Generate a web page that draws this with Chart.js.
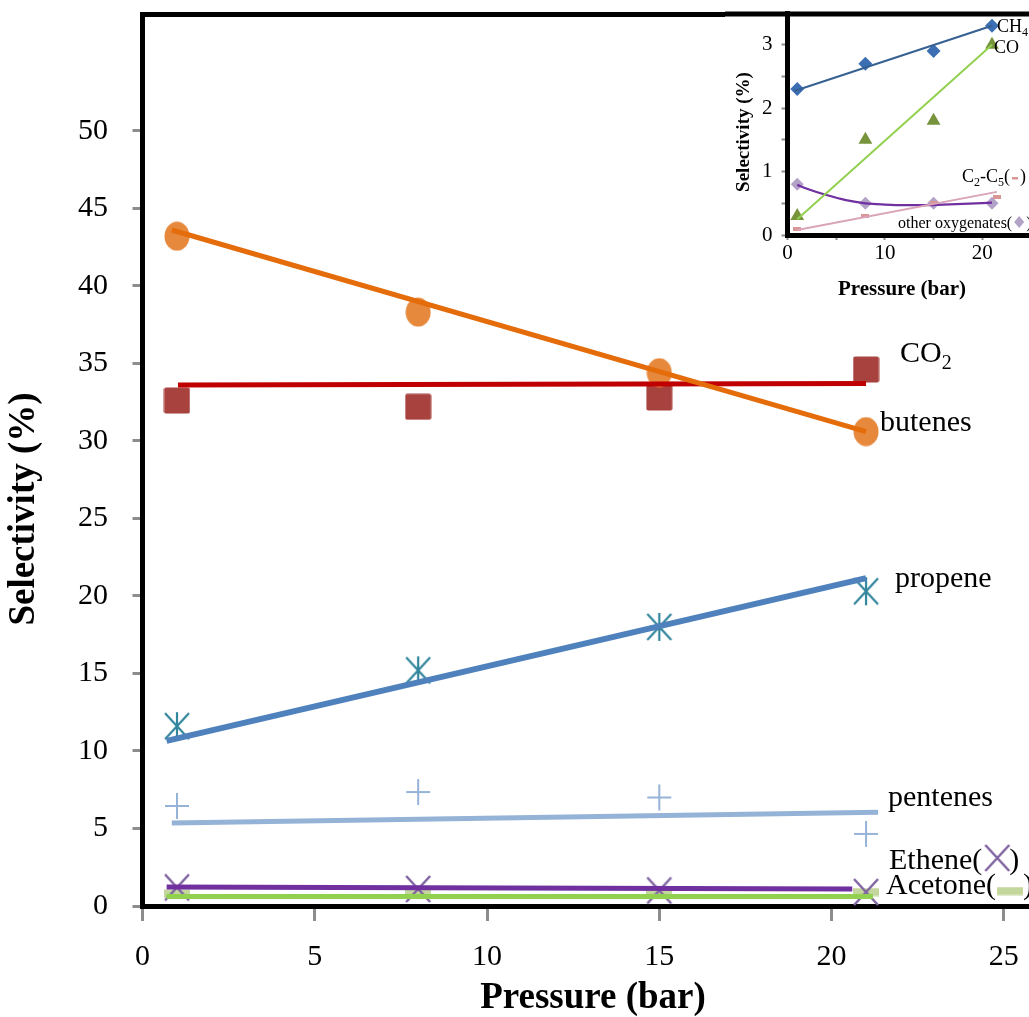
<!DOCTYPE html>
<html><head><meta charset="utf-8">
<script src="https://cdn.jsdelivr.net/npm/chart.js@4"></script>
<style>
html,body{margin:0;padding:0;background:#fff;overflow:hidden}
#wrap{position:relative;width:1029px;height:1017px}
#main{position:absolute;left:0;top:0}
#inset{position:absolute;left:725px;top:0}
</style></head><body>
<div id="wrap"><canvas id="main" width="1029" height="1017"></canvas><canvas id="inset" width="304" height="300"></canvas></div>
<script>
const F = "'Liberation Serif','Times New Roman',Times,serif";

// ---------- main chart data ----------
const pressure = [1, 8, 15, 21];
const butenes  = [43.2, 38.3, 34.4, 30.6];
const co2      = [32.6, 32.2, 32.8, 34.6];
const propene  = [11.6, 15.2, 18.0, 20.3];
const pentenes = [6.45, 7.35, 7.0, 4.65];
const ethene   = [1.2, 1.1, 1.0, 0.9];
const acetone  = [0.8, 0.8, 0.8, 0.9];

// trend lines (end points)
const butenesTrendX  = [0.85, 21];  const butenesTrend  = [43.6, 30.6];
const co2TrendX      = [1.03, 21];  const co2Trend      = [33.6, 33.7];
const propeneTrendX  = [0.7, 21];   const propeneTrend  = [10.65, 21.15];
const pentenesTrendX = [0.85, 21.35]; const pentenesTrend = [5.35, 6.05];
const etheneTrendX   = [0.7, 20.6]; const etheneTrend   = [1.22, 1.1];
const acetoneTrendX  = [0.7, 21.2]; const acetoneTrend  = [0.62, 0.62];

// tick values
const mainXTicks = [0, 5, 10, 15, 20, 25];
const mainYTicks = [0, 5, 10, 15, 20, 25, 30, 35, 40, 45, 50];

// ---------- inset data ----------
const insetP = [1, 8, 15, 21];
const ch4    = [2.3, 2.7, 2.9, 3.3];
const co     = [0.3, 1.5, 1.8, 3.0];
const c2c5P  = [1, 8, 15, 21.5];
const c2c5   = [0.1, 0.3, 0.5, 0.6];
const oxy    = [0.8, 0.5, 0.5, 0.5];
const ch4TrendX  = [0.7, 21];  const ch4Trend  = [2.27, 3.3];
const coTrendX   = [1, 21];    const coTrend   = [0.25, 3.0];
const c2c5TrendX = [1, 21.5];  const c2c5Trend = [0.08, 0.68];
const oxyCurveX  = [1, 2, 4, 6, 8, 10, 12, 14, 16, 18, 21];
const oxyCurve   = [0.79, 0.73, 0.63, 0.55, 0.50, 0.48, 0.47, 0.47, 0.48, 0.49, 0.51];
const insetXTicks = [0, 5, 10, 15, 20];
const insetXLabels = ['0', '', '10', '', '20'];
const insetYTicks = [0, 0.5, 1, 1.5, 2, 2.5, 3, 3.5];
const insetYLabels = ['0', '', '1', '', '2', '', '3', ''];

function pts(xs, ys){ return xs.map((x,i)=>({x:x, y:ys[i]})); }
function mk(w,h,fn){ const c=document.createElement('canvas'); c.width=w; c.height=h; fn(c.getContext('2d'),w,h); return c; }
function noPad(s){ s.paddingTop=0; s.paddingBottom=0; s.paddingLeft=0; s.paddingRight=0; }
function setTicks(vals){ return s=>{ s.ticks = vals.map(v=>({value:v})); }; }

const imgEllipse = mk(26,30,(c,w,h)=>{ c.fillStyle='#E6893D'; c.beginPath(); c.ellipse(w/2,h/2,12.5,14.5,0,0,Math.PI*2); c.fill(); });
const imgSquare = mk(27,27,(c,w,h)=>{ c.fillStyle='#A8423F'; c.beginPath(); c.roundRect(0.5,0.5,26,26,2); c.fill(); });
const imgAst = mk(28,30,(c,w,h)=>{ c.strokeStyle='#31859C'; c.lineWidth=2.2; c.beginPath(); c.moveTo(2,2); c.lineTo(26,28); c.moveTo(26,2); c.lineTo(2,28); c.moveTo(14,1); c.lineTo(14,29); c.stroke(); });
const imgPlus = mk(26,28,(c,w,h)=>{ c.strokeStyle='#95B3D7'; c.lineWidth=2; c.beginPath(); c.moveTo(1,14); c.lineTo(25,14); c.moveTo(13,1); c.lineTo(13,27); c.stroke(); });
const imgX = mk(28,30,(c,w,h)=>{ c.strokeStyle='#8064A2'; c.lineWidth=2.5; c.beginPath(); c.moveTo(2,2); c.lineTo(26,28); c.moveTo(26,2); c.lineTo(2,28); c.stroke(); });
const imgBar = mk(26,9,(c,w,h)=>{ c.fillStyle='#C3D69B'; c.fillRect(0,0.5,26,8); });
const imgPink = mk(8,4,(c,w,h)=>{ c.fillStyle='#D99694'; c.fillRect(0,0,8,4); });

function marks(xs, ys, img){ return {data:pts(xs,ys), showLine:false, pointStyle:img, pointRadius:10, pointHoverRadius:10, order:2}; }
function trend(xs, ys, color, w){ return {data:pts(xs,ys), showLine:true, borderColor:color, borderWidth:w, pointRadius:0, pointHoverRadius:0, fill:false, order:1}; }

function run(c, x, y, parts){
  for (const p of parts){
    c.font = (p[3]||'') + ' ' + p[1] + 'px ' + F;
    c.fillText(p[0], x, y + (p[2]||0));
    x += c.measureText(p[0]).width;
  }
  return x;
}

const mainDecor = {
  id:'mainDecor',
  afterDraw(chart){
    const c = chart.ctx, a = chart.chartArea;
    c.save();
    c.strokeStyle='#000'; c.lineWidth=5;
    c.beginPath(); c.moveTo(a.left-2.5, a.top); c.lineTo(chart.width, a.top); c.stroke();
    c.fillStyle='#000'; c.textBaseline='alphabetic'; c.textAlign='left';
    run(c, 900, 362, [['CO',30],['2',20,7]]);
    run(c, 880, 431, [['butenes',30]]);
    run(c, 895, 587, [['propene',30]]);
    run(c, 888, 806, [['pentenes',30]]);
    let x = run(c, 889, 869, [['Ethene(',30]]);
    c.drawImage(imgX, x+1, 858-15);
    run(c, x+27, 869, [[')',30]]);
    c.fillStyle='#000';
    x = run(c, 886, 894, [['Acetone(',30]]);
    c.drawImage(imgBar, x+1, 891-4.5);
    run(c, x+27, 894, [[')',30]]);
    c.textAlign='center';
    c.font='bold 37px '+F;
    c.fillText('Pressure (bar)', 593, 1008);
    c.translate(34, 509); c.rotate(-Math.PI/2);
    c.fillText('Selectivity (%)', 0, 0);
    c.restore();
  }
};

new Chart(document.getElementById('main'), {
  type:'scatter',
  data:{datasets:[
    trend(butenesTrendX, butenesTrend, '#E46C0A', 5),
    trend(co2TrendX, co2Trend, '#C00000', 5),
    trend(propeneTrendX, propeneTrend, '#4F81BD', 6),
    trend(pentenesTrendX, pentenesTrend, '#95B3D7', 5),
    trend(etheneTrendX, etheneTrend, '#7030A0', 5),
    trend(acetoneTrendX, acetoneTrend, '#92D050', 5),
    marks(pressure, butenes, imgEllipse),
    marks(pressure, co2, imgSquare),
    marks(pressure, propene, imgAst),
    marks(pressure, pentenes, imgPlus),
    marks(pressure, ethene, imgX),
    marks(pressure, acetone, imgBar)
  ]},
  options:{
    responsive:false, animation:false, devicePixelRatio:1,
    layout:{autoPadding:false, padding:{top:14.5,left:0,right:0,bottom:0}},
    plugins:{legend:{display:false}, tooltip:{enabled:false}},
    scales:{
      x:{type:'linear', min:0, max:25.73,
        afterBuildTicks:setTicks(mainXTicks),
        afterFit:s=>{ s.height = 111; noPad(s); },
        ticks:{color:'#000', font:{family:F,size:30}, padding:18, maxRotation:0, autoSkip:false},
        grid:{drawOnChartArea:false, drawTicks:true, tickLength:15, tickColor:'#8c8c8c', tickWidth:3},
        border:{display:true, color:'#000', width:5}
      },
      y:{type:'linear', min:0, max:57.5,
        afterBuildTicks:setTicks(mainYTicks),
        afterFit:s=>{ s.width = 142.5; noPad(s); },
        ticks:{color:'#000', font:{family:F,size:30}, padding:24.5, autoSkip:false},
        grid:{drawOnChartArea:false, drawTicks:true, tickLength:10, tickColor:'#8c8c8c', tickWidth:3},
        border:{display:true, color:'#000', width:5}
      }
    }
  },
  plugins:[mainDecor]
});

const insetDecor = {
  id:'insetDecor',
  beforeDraw(chart){
    const c = chart.ctx; c.save(); c.fillStyle='#fff'; c.fillRect(0,0,chart.width,chart.height); c.restore();
  },
  afterDraw(chart){
    const c = chart.ctx, a = chart.chartArea;
    c.save();
    c.strokeStyle='#000'; c.lineWidth=5;
    c.beginPath(); c.moveTo(0, a.top+1); c.lineTo(chart.width, a.top+1); c.stroke();
    c.fillStyle='#000'; c.textAlign='left'; c.textBaseline='alphabetic';
    run(c, 272, 32, [['CH',18],['4',12,4]]);
    run(c, 269, 53, [['CO',18]]);
    let x = run(c, 237, 182, [['C',18],['2',12,4],['-C',18],['5',12,4],['(',18]]);
    c.fillStyle='#D99694'; c.fillRect(x+2, 177, 6, 2.5);
    c.fillStyle='#000'; run(c, x+10, 182, [[')',18]]);
    x = run(c, 173, 228, [['other oxygenates(',16]]);
    c.fillStyle='#B3A2C7'; c.beginPath(); c.moveTo(x+7,216); c.lineTo(x+12,222); c.lineTo(x+7,228); c.lineTo(x+2,222); c.closePath(); c.fill();
    c.fillStyle='#000'; run(c, x+14, 228, [[')',16]]);
    c.textAlign='center';
    c.font='bold 21px '+F;
    c.fillText('Pressure (bar)', 177, 295);
    c.font='bold 19px '+F;
    c.translate(24, 132); c.rotate(-Math.PI/2);
    c.fillText('Selectivity (%)', 0, 0);
    c.restore();
  }
};

new Chart(document.getElementById('inset'), {
  type:'scatter',
  data:{datasets:[
    trend(ch4TrendX, ch4Trend, '#376092', 2),
    trend(coTrendX, coTrend, '#92D050', 2),
    trend(c2c5TrendX, c2c5Trend, '#D9A3B8', 2),
    Object.assign(trend(oxyCurveX, oxyCurve, '#7030A0', 2.2), {cubicInterpolationMode:'monotone'}),
    {data:pts(insetP, ch4), showLine:false, pointStyle:'rectRot', pointRadius:7, backgroundColor:'#3C6EB4', pointBorderWidth:0, order:2},
    {data:pts(insetP, co), showLine:false, pointStyle:'triangle', pointRadius:8, backgroundColor:'#77933C', pointBorderWidth:0, order:2},
    {data:pts(c2c5P, c2c5), showLine:false, pointStyle:imgPink, pointRadius:5, order:2},
    {data:pts(insetP, oxy), showLine:false, pointStyle:'rectRot', pointRadius:6.5, backgroundColor:'#B3A2C7', pointBorderWidth:0, order:2}
  ]},
  options:{
    responsive:false, animation:false, devicePixelRatio:1,
    layout:{autoPadding:false, padding:{top:13,left:0,right:0,bottom:0}},
    plugins:{legend:{display:false}, tooltip:{enabled:false}},
    scales:{
      x:{type:'linear', min:0, max:24.8,
        afterBuildTicks:setTicks(insetXTicks),
        afterFit:s=>{ s.height = 65; noPad(s); },
        ticks:{color:'#000', font:{family:F,size:21}, padding:1, maxRotation:0, autoSkip:false,
          callback:(v,i)=> insetXLabels[i]},
        grid:{drawOnChartArea:false, drawTicks:true, tickLength:5, tickColor:'#8c8c8c', tickWidth:2},
        border:{display:true, color:'#000', width:5}
      },
      y:{type:'linear', min:0, max:3.5,
        afterBuildTicks:setTicks(insetYTicks),
        afterFit:s=>{ s.width = 62.5; noPad(s); },
        ticks:{color:'#000', font:{family:F,size:21}, padding:9, autoSkip:false,
          callback:(v,i)=> insetYLabels[i]},
        grid:{drawOnChartArea:false, drawTicks:true, tickLength:6, tickColor:'#8c8c8c', tickWidth:2},
        border:{display:true, color:'#000', width:5}
      }
    }
  },
  plugins:[insetDecor]
});
</script>
</body></html>
